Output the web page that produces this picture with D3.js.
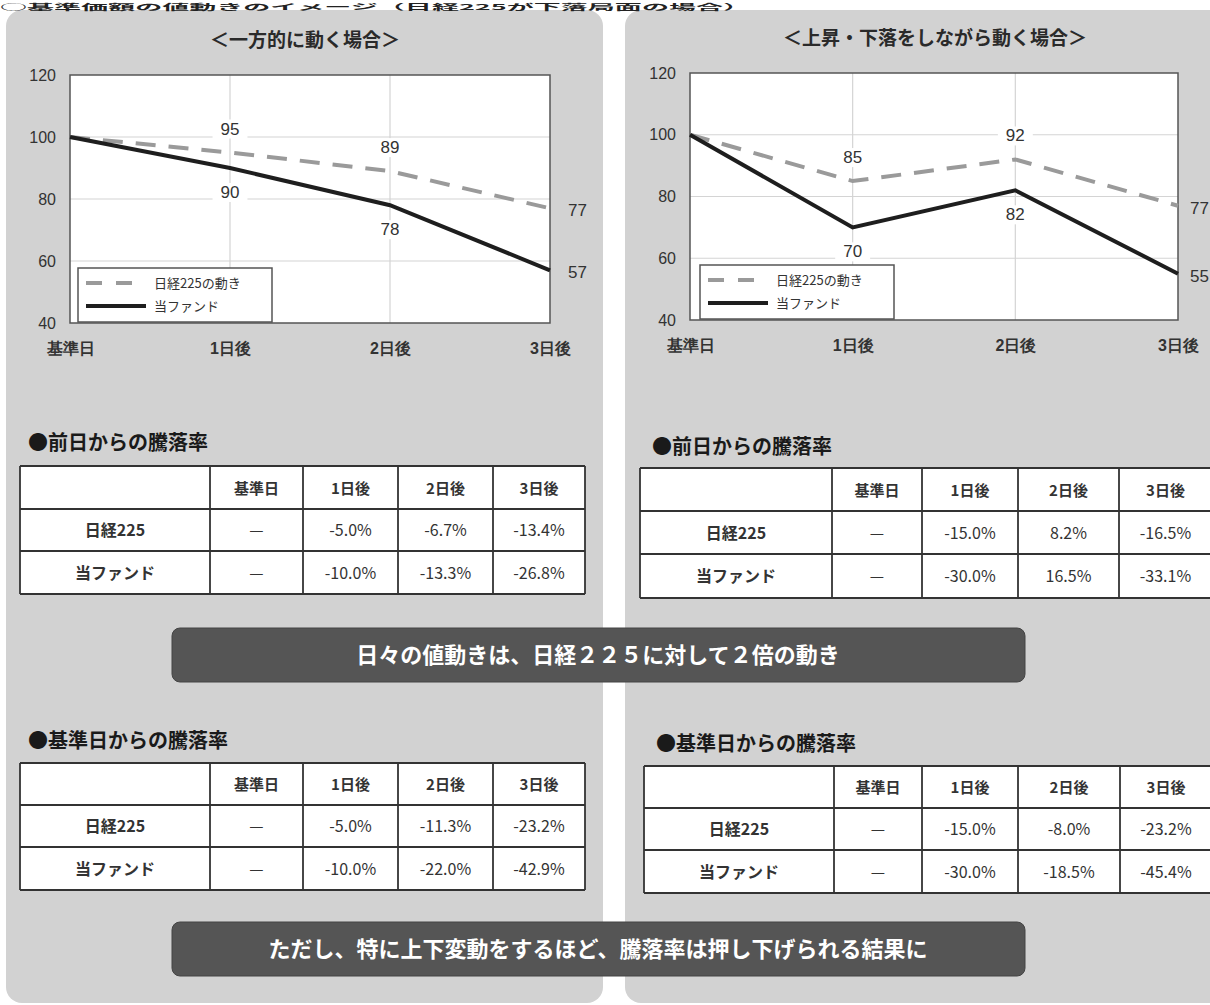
<!DOCTYPE html>
<html><head><meta charset="utf-8">
<script src="https://cdn.jsdelivr.net/npm/d3@7"></script>
<style>
html,body{margin:0;padding:0;background:#fff;}
svg{display:block;font-family:"Noto Sans CJK JP","Noto Sans",sans-serif;}
</style></head>
<body>
<svg id="c" width="1210" height="1005"></svg>
<script>
// ---- data ----
const days = ["基準日","1日後","2日後","3日後"];
const seriesNames = ["日経225の動き","当ファンド"];
const leftTitle = "＜一方的に動く場合＞";
const rightTitle = "＜上昇・下落をしながら動く場合＞";
const leftNikkei = [100,95,89,77];
const leftFund   = [100,90,78,57];
const rightNikkei = [100,85,92,77];
const rightFund   = [100,70,82,55];
const yTicks = [40,60,80,100,120];
const rowNames = ["日経225","当ファンド"];
const dailyTitle = "●前日からの騰落率";
const cumTitle = "●基準日からの騰落率";
const leftDailyNikkei = [null,-5.0,-6.7,-13.4];
const leftDailyFund   = [null,-10.0,-13.3,-26.8];
const rightDailyNikkei = [null,-15.0,8.2,-16.5];
const rightDailyFund   = [null,-30.0,16.5,-33.1];
const leftCumNikkei = [null,-5.0,-11.3,-23.2];
const leftCumFund   = [null,-10.0,-22.0,-42.9];
const rightCumNikkei = [null,-15.0,-8.0,-23.2];
const rightCumFund   = [null,-30.0,-18.5,-45.4];
const banner1 = "日々の値動きは、日経２２５に対して２倍の動き";
const banner2 = "ただし、特に上下変動をするほど、騰落率は押し下げられる結果に";
const headerText = "○基準価額の値動きのイメージ（日経225が下落局面の場合）";

// ---- drawing ----
const svg = d3.select("#c");
const panelFill = "#d2d2d2";

// panels
svg.append("rect").attr("x",6).attr("y",10).attr("width",597).attr("height",993).attr("rx",16).attr("fill",panelFill);
svg.append("rect").attr("x",625).attr("y",10).attr("width",610).attr("height",993).attr("rx",16).attr("fill",panelFill);

// header strip above the panels
svg.append("text").attr("x",0).attr("y",9.5).attr("font-size",8).attr("font-weight",700)
  .attr("fill","#222").attr("textLength",750).attr("lengthAdjust","spacingAndGlyphs").text(headerText);

function chart(opts){
  const g = svg.append("g");
  const x = d3.scalePoint().domain(days).range([opts.x0, opts.x1]);
  const y = d3.scaleLinear().domain([40,120]).range([opts.y1, opts.y0]);
  // title
  g.append("text").attr("x",opts.tx).attr("y",opts.ty).attr("text-anchor","middle")
    .attr("font-size",19).attr("font-weight",700).attr("fill","#2a2a2a").text(opts.title);
  // plot bg
  g.append("rect").attr("x",opts.x0).attr("y",opts.y0).attr("width",opts.x1-opts.x0)
    .attr("height",opts.y1-opts.y0).attr("fill","#fff");
  // grid
  g.append("g").selectAll("line").data([60,80,100]).join("line")
    .attr("x1",opts.x0).attr("x2",opts.x1).attr("y1",d=>y(d)).attr("y2",d=>y(d))
    .attr("stroke","#d4d4d4").attr("stroke-width",1.2);
  g.append("g").selectAll("line").data(days.slice(1,3)).join("line")
    .attr("y1",opts.y0).attr("y2",opts.y1).attr("x1",d=>x(d)).attr("x2",d=>x(d))
    .attr("stroke","#d4d4d4").attr("stroke-width",1.2);
  g.append("rect").attr("x",opts.x0).attr("y",opts.y0).attr("width",opts.x1-opts.x0)
    .attr("height",opts.y1-opts.y0).attr("fill","none").attr("stroke","#555").attr("stroke-width",1.5);
  // y axis labels
  const ya = d3.axisLeft(y).tickValues(yTicks).tickSize(0).tickPadding(14);
  const yg = g.append("g").attr("transform",`translate(${opts.x0},0)`).call(ya);
  yg.select(".domain").remove();
  yg.selectAll("text").attr("font-size",16).attr("fill","#333").attr("font-family","Liberation Sans, Arial, sans-serif");
  // x axis labels
  const xa = d3.axisBottom(x).tickSize(0).tickPadding(20);
  const xg = g.append("g").attr("transform",`translate(0,${opts.y1})`).call(xa);
  xg.select(".domain").remove();
  xg.selectAll("text").attr("font-size",16).attr("font-weight",700).attr("fill","#333");
  // lines
  const line = d3.line().x((d,i)=>x(days[i])).y(d=>y(d));
  g.append("path").datum(opts.nikkei).attr("d",line).attr("fill","none")
    .attr("stroke","#9a9a9a").attr("stroke-width",4).attr("stroke-dasharray","20,13");
  g.append("path").datum(opts.fund).attr("d",line).attr("fill","none")
    .attr("stroke","#1e1e1e").attr("stroke-width",4);
  // data labels
  function lab(v,i,above){
    let lx = x(days[i]), ly;
    let anchor="middle";
    const last = i===days.length-1;
    if(last){ lx += opts.endOff; ly = y(v)+8; anchor="start"; }
    else ly = above ? y(v)-18 : y(v)+30;
    const t = g.append("text").attr("x",lx).attr("y",ly).attr("text-anchor",anchor)
      .attr("font-size",17).attr("fill","#333").attr("font-family","Liberation Sans, Arial, sans-serif").text(v);
    if(!last){
      const bb = t.node().getBBox();
      g.insert("rect", () => t.node()).attr("x",bb.x-8).attr("y",bb.y).attr("width",bb.width+16).attr("height",bb.height).attr("fill","#fff");
    }
  }
  for(let i=1;i<days.length;i++){ lab(opts.nikkei[i],i,true); lab(opts.fund[i],i,false); }
  // legend
  const lg = g.append("g").attr("transform",`translate(${opts.lx},${opts.ly})`);
  lg.append("rect").attr("width",194).attr("height",54).attr("fill","#fff").attr("stroke","#555").attr("stroke-width",1.5);
  lg.append("line").attr("x1",8).attr("x2",68).attr("y1",15).attr("y2",15).attr("stroke","#9a9a9a").attr("stroke-width",4).attr("stroke-dasharray","16,14");
  lg.append("line").attr("x1",8).attr("x2",68).attr("y1",38).attr("y2",38).attr("stroke","#1e1e1e").attr("stroke-width",4);
  lg.selectAll("text.l").data(seriesNames).join("text").attr("class","l")
    .attr("x",76).attr("y",(d,i)=>20+i*23).attr("font-size",13).attr("fill","#333").text(d=>d);
}

chart({title:leftTitle,tx:305,ty:47,x0:70,x1:550,y0:75,y1:323,nikkei:leftNikkei,fund:leftFund,lx:78,ly:268,endOff:18});
chart({title:rightTitle,tx:935,ty:45,x0:690,x1:1178,y0:73,y1:320,nikkei:rightNikkei,fund:rightFund,lx:700,ly:265,endOff:12});

function fmt(v){ return v===null ? "—" : (v<0?"-":"") + Math.abs(v).toFixed(1) + "%"; }

function table(opts){
  const g = svg.append("g");
  g.append("text").attr("x",opts.tx).attr("y",opts.ty).attr("font-size",20).attr("font-weight",700)
    .attr("fill","#1a1a1a").text(opts.title);
  const cols = opts.cols; // boundaries
  const rows = opts.rows;
  g.append("rect").attr("x",cols[0]).attr("y",rows[0]).attr("width",cols[cols.length-1]-cols[0])
    .attr("height",rows[rows.length-1]-rows[0]).attr("fill","#fff");
  const data = [[""].concat(days), [rowNames[0]].concat(opts.a.map(fmt)), [rowNames[1]].concat(opts.b.map(fmt))];
  data.forEach((r,ri)=>{
    r.forEach((c,ci)=>{
      g.append("text").attr("x",(cols[ci]+cols[ci+1])/2).attr("y",(rows[ri]+rows[ri+1])/2+6)
        .attr("text-anchor","middle").attr("font-size", ri===0?15:16)
        .attr("font-weight", ri===0 || ci===0 ? 700 : 400)
        .attr("fill","#333").text(c);
    });
  });
  g.selectAll("line.h").data(rows).join("line").attr("class","h")
    .attr("x1",cols[0]).attr("x2",cols[cols.length-1]).attr("y1",d=>d).attr("y2",d=>d)
    .attr("stroke","#333").attr("stroke-width",1.8);
  g.selectAll("line.v").data(cols).join("line").attr("class","v")
    .attr("y1",rows[0]).attr("y2",rows[rows.length-1]).attr("x1",d=>d).attr("x2",d=>d)
    .attr("stroke","#333").attr("stroke-width",1.8);
}

table({title:dailyTitle,tx:28,ty:450,cols:[20,210,303,398,493,585],rows:[466,509,551,594],a:leftDailyNikkei,b:leftDailyFund});
table({title:dailyTitle,tx:652,ty:454,cols:[640,832,922,1018,1119,1212],rows:[468,511,554,598],a:rightDailyNikkei,b:rightDailyFund});
table({title:cumTitle,tx:28,ty:748,cols:[20,210,303,398,493,585],rows:[763,805,847,890],a:leftCumNikkei,b:leftCumFund});
table({title:cumTitle,tx:656,ty:751,cols:[644,834,922,1018,1120,1212],rows:[766,808,850,893],a:rightCumNikkei,b:rightCumFund});

function banner(y,txt){
  svg.append("rect").attr("x",172).attr("y",y).attr("width",853).attr("height",54).attr("rx",8)
    .attr("fill","#555").attr("stroke","#444").attr("stroke-width",1);
  svg.append("text").attr("x",598).attr("y",y+35).attr("text-anchor","middle").attr("font-size",22)
    .attr("font-weight",700).attr("fill","#fff").text(txt);
}
banner(628,banner1);
banner(922,banner2);
</script>
</body></html>
